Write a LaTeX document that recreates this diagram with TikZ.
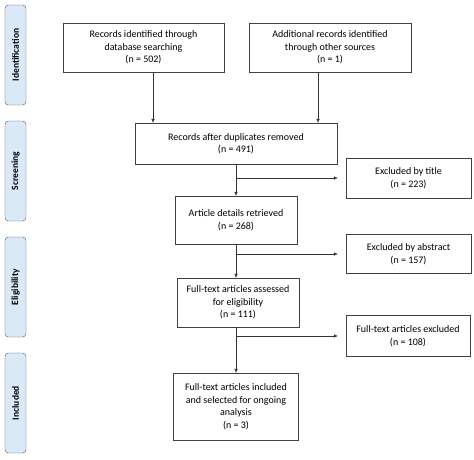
\documentclass[tikz,border=0pt]{standalone}
\usepackage{fontspec}
\setmainfont{Carlito}
\usetikzlibrary{arrows.meta}
\definecolor{phasefill}{RGB}{218,233,248}

\begin{document}
\begin{tikzpicture}[x=1pt,y=-1pt,
        box/.style={draw=black!75, thin, align=center, font=\fontsize{10}{12.5}\selectfont, inner sep=2pt},
        phase/.style={draw=black!65, fill=phasefill, rounded corners=3.5pt, rotate=90, font=\fontsize{9.5}{11}\selectfont\bfseries, minimum width=100pt, minimum height=21pt, inner sep=1pt},
        arr/.style={-{Latex[length=4pt,width=3.5pt]}, black!80, thin}]
        \useasboundingbox (0,0) rectangle (474,459) ;
        % phases
        \node[phase] (ident) at (15.5,55) {Identification} ;
        \node[phase] (screen) at (15.5,171) {Screening} ;
        \node[phase] (elig) at (15.5,287) {Eligibility} ;
        \node[phase] (incl) at (15.5,403) {Included} ;
        % boxes
        \node[box, minimum width=161pt, minimum height=49pt] (dbrec) at (143.5,47.5) {Records identified through\\database searching\\(n = 502)} ;
        \node[box, minimum width=162pt, minimum height=49pt] (othrec) at (330,47.5) {Additional records identified\\through other sources\\(n = 1)} ;
        \node[box, minimum width=202pt, minimum height=41pt] (dedup) at (236,143.5) {Records after duplicates removed\\(n = 491)} ;
        \node[box, minimum width=122pt, minimum height=48pt] (detail) at (236,220) {Article details retrieved\\(n = 268)} ;
        \node[box, minimum width=122pt, minimum height=49pt] (fulltext) at (238,302.5) {Full-text articles assessed\\for eligibility\\(n = 111)} ;
        \node[box, minimum width=125pt, minimum height=67pt] (final) at (236,406.5) {Full-text articles included\\and selected for ongoing\\analysis\\(n = 3)} ;
        \node[box, minimum width=125pt, minimum height=40pt] (extitle) at (408.5,178) {Excluded by title\\(n = 223)} ;
        \node[box, minimum width=125pt, minimum height=39pt] (exabs) at (408.5,254) {Excluded by abstract\\(n = 157)} ;
        \node[box, minimum width=124pt, minimum height=41pt] (exfull) at (408,336) {Full-text articles excluded\\(n = 108)} ;
        % arrows
        \draw[arr] ([xshift=9.5pt]dbrec.south) -- ([xshift=9.5pt]dbrec.south |- dedup.north) ;
        \draw[arr] ([xshift=-12pt]othrec.south) -- ([xshift=-12pt]othrec.south |- dedup.north) ;
        \draw[arr] (dedup.south) -- (dedup.south |- detail.north) ;
        \draw[arr] (detail.south) -- (detail.south |- fulltext.north) ;
        \draw[arr] (detail.south |- fulltext.south) -- (detail.south |- final.north) ;
        \draw[arr] (dedup.south |- extitle.west) -- ([xshift=-8pt]extitle.west) ;
        \draw[arr] (detail.south |- exabs.west) -- ([xshift=-8pt]exabs.west) ;
        \draw[arr] (detail.south |- exfull.west) -- ([xshift=-8pt]exfull.west) ;
    \end{tikzpicture}
\end{document}
